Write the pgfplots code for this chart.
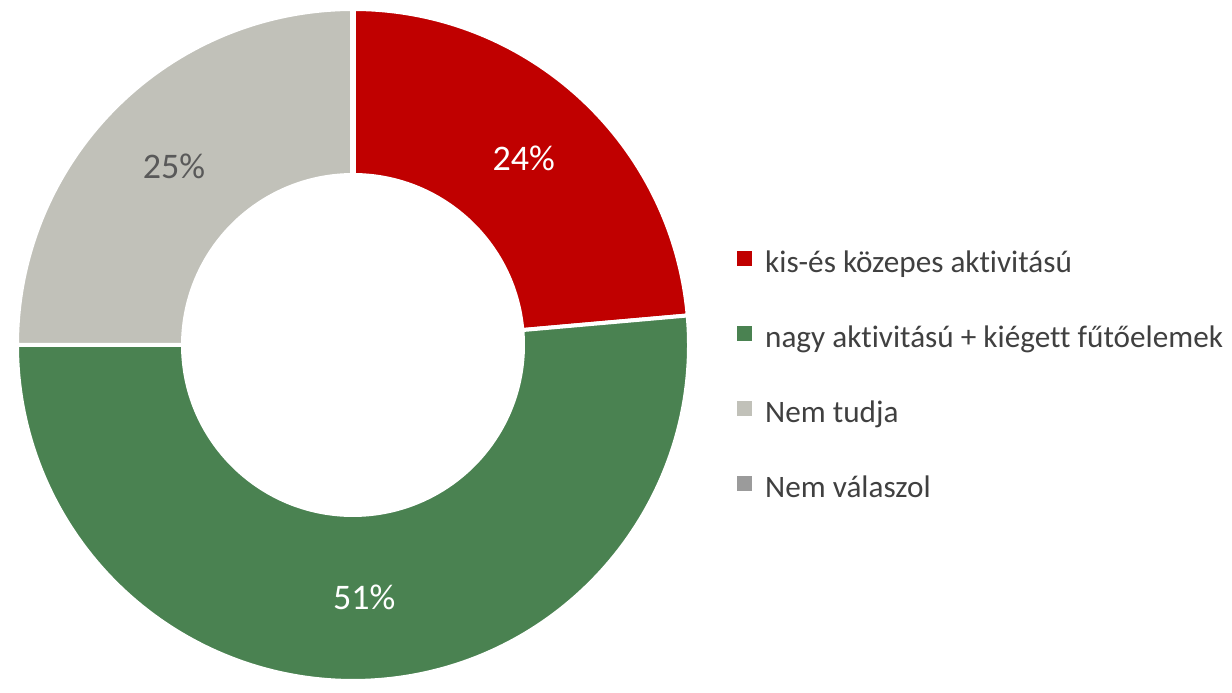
\documentclass[border=0pt]{standalone}
\usepackage{pgfplots}
\pgfplotsset{compat=1.18}
\usepackage{pgfplotstable}
\usepackage{fontspec}
\setmainfont{Carlito}[Ligatures={NoCommon}]
\definecolor{cRed}{HTML}{C00000}
\definecolor{cGreen}{HTML}{4A8251}
\definecolor{cLight}{HTML}{C1C1B9}
\definecolor{cGray}{HTML}{9B9B9B}
\definecolor{txtGray}{HTML}{404040}
\definecolor{lblGray}{HTML}{595959}

\pgfplotstableread{
label value
kis 23.6
nagy 51.4
nemtudja 25.0
nemval 0.0
}\datatable

\begin{document}
\begin{tikzpicture}
\pgfplotstablegetelem{0}{value}\of\datatable\let\vA\pgfplotsretval
\pgfplotstablegetelem{1}{value}\of\datatable\let\vB\pgfplotsretval
\pgfplotstablegetelem{2}{value}\of\datatable\let\vC\pgfplotsretval
\pgfplotstablegetelem{3}{value}\of\datatable\let\vD\pgfplotsretval
\pgfmathsetmacro\aSA{90}
\pgfmathsetmacro\aEA{90-3.6*\vA}
\pgfmathsetmacro\aSB{\aEA}
\pgfmathsetmacro\aEB{90-3.6*(\vA+\vB)}
\pgfmathsetmacro\aSC{\aEB}
\pgfmathsetmacro\aEC{90-3.6*(\vA+\vB+\vC)}
\pgfmathsetmacro\mA{(\aSA+\aEA)/2}
\pgfmathsetmacro\mB{(\aSB+\aEB)/2}
\pgfmathsetmacro\mC{(\aSC+\aEC)/2}
\begin{axis}[
  scale only axis, width=616pt, height=339.5pt,
  xmin=0, xmax=1232, ymin=0, ymax=679,
  hide axis, clip=false,
  legend style={font=\fontsize{15.6}{18}\selectfont, text=txtGray, draw=none, fill=none,
    at={(rel axis cs:0.5933,0.445)}, anchor=west, row sep=23.8pt, legend cell align=left,
    nodes={inner sep=0pt, text height=10pt, text depth=3pt}},
]
\path (rel axis cs:0,0) rectangle (rel axis cs:1,1);
\addlegendimage{legend image code/.code={\fill[cRed] (0pt,0pt) rectangle (7pt,7pt);\path (13.5pt,0pt);}}
\addlegendentry{kis-és közepes aktivitású}
\addlegendimage{legend image code/.code={\fill[cGreen] (0pt,0pt) rectangle (7pt,7pt);\path (13.5pt,0pt);}}
\addlegendentry{nagy aktivitású + kiégett fűtőelemek}
\addlegendimage{legend image code/.code={\fill[cLight] (0pt,0pt) rectangle (7pt,7pt);\path (13.5pt,0pt);}}
\addlegendentry{Nem tudja}
\addlegendimage{legend image code/.code={\fill[cGray] (0pt,0pt) rectangle (7pt,7pt);\path (13.5pt,0pt);}}
\addlegendentry{Nem válaszol}

\fill[cRed, draw=white, line width=2pt]
  ([shift={(\aSA:168pt)}]axis cs:353,334) arc[start angle=\aSA, end angle=\aEA, radius=168pt]
  -- ([shift={(\aEA:85pt)}]axis cs:353,334) arc[start angle=\aEA, end angle=\aSA, radius=85pt] -- cycle;
\fill[cGreen, draw=white, line width=2pt]
  ([shift={(\aSB:168pt)}]axis cs:353,334) arc[start angle=\aSB, end angle=\aEB, radius=168pt]
  -- ([shift={(\aEB:85pt)}]axis cs:353,334) arc[start angle=\aEB, end angle=\aSB, radius=85pt] -- cycle;
\fill[cLight, draw=white, line width=2pt]
  ([shift={(\aSC:168pt)}]axis cs:353,334) arc[start angle=\aSC, end angle=\aEC, radius=168pt]
  -- ([shift={(\aEC:85pt)}]axis cs:353,334) arc[start angle=\aEC, end angle=\aSC, radius=85pt] -- cycle;
\draw[white, line width=3pt] ([shift={(90:84pt)}]axis cs:353,334) -- ([shift={(90:171pt)}]axis cs:353,334);

\node[font=\fontsize{18}{21}\selectfont, text=white] at ([shift={(\mA:126.5pt)}]axis cs:353,334) {24\%};
\node[font=\fontsize{18}{21}\selectfont, text=white] at ([shift={(\mB:126.5pt)}]axis cs:353,334) {51\%};
\node[font=\fontsize{18}{21}\selectfont, text=lblGray] at ([shift={(\mC:126.5pt)}]axis cs:353,334) {25\%};
\end{axis}
\end{tikzpicture}
\end{document}
